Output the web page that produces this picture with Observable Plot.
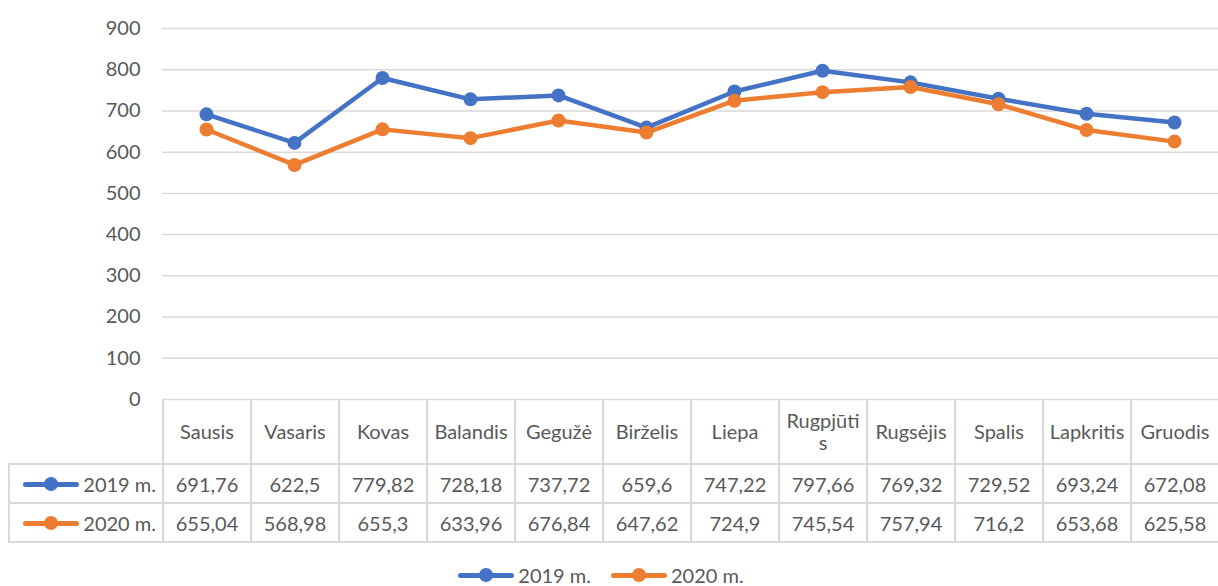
<!DOCTYPE html>
<html>
<head>
<meta charset="utf-8">
<script src="https://cdn.jsdelivr.net/npm/d3@7"></script>
<script src="https://cdn.jsdelivr.net/npm/@observablehq/plot@0.6"></script>
<style>
  html, body { margin: 0; padding: 0; background: #fff; }
  #wrap { position: relative; width: 1218px; height: 586px; font-family: Lato, "Open Sans", sans-serif; color: #595959; overflow: hidden; }
  #chart { position: absolute; left: 0; top: 0; }
  #tbl { position: absolute; left: 8px; top: 399px; border-collapse: collapse; table-layout: fixed; width: 1210px; font-size: 20px; color: #595959; }
  #tbl td { border: 2px solid #d9d9d9; text-align: center; padding: 0 5px; white-space: normal; word-break: break-all; line-height: 22px; }
  #tbl tr.head td { border-top: none; height: 64px; }
  #tbl tr.head td.corner { border-left: none; border-top: none; }
  #tbl tr.row td { height: 37px; }
  #tbl td.key { text-align: right; padding: 0 6px 0 6px; white-space: nowrap; }
  .sw { display: inline-block; position: relative; width: 56px; height: 5px; border-radius: 3px; vertical-align: middle; margin-right: 4px; top: -2px; }
  .sw::after { content: ""; position: absolute; left: 21px; top: -5px; width: 14px; height: 14px; border-radius: 50%; background: inherit; }
  #legend { position: absolute; top: 563px; left: -8px; width: 1218px; text-align: center; font-size: 20px; white-space: nowrap; }
  #legend span.item { display: inline-block; margin: 0 10px; }
</style>
</head>
<body>
<div id="wrap">
  <div id="chart"></div>
  <table id="tbl"></table>
  <div id="legend"></div>
</div>
<script>
const months = ["Sausis","Vasaris","Kovas","Balandis","Gegužė","Birželis","Liepa","Rugpjūtis","Rugsėjis","Spalis","Lapkritis","Gruodis"];
const seriesNames = ["2019 m.", "2020 m."];
const values2019 = [691.76, 622.5, 779.82, 728.18, 737.72, 659.6, 747.22, 797.66, 769.32, 729.52, 693.24, 672.08];
const values2020 = [655.04, 568.98, 655.3, 633.96, 676.84, 647.62, 724.9, 745.54, 757.94, 716.2, 653.68, 625.58];
const yTicks = [0, 100, 200, 300, 400, 500, 600, 700, 800, 900];
const colors = ["#4472C4", "#ED7D31"];

const seriesValues = [values2019, values2020];
const data = seriesNames.map((s, i) => months.map((m, j) => ({series: s, month: m, value: seriesValues[i][j]})));

const marks = [
  Plot.gridY(yTicks, {stroke: "#d9d9d9", strokeOpacity: 1, strokeWidth: 1.5}),
  Plot.axisY(yTicks, {tickSize: 0, tickPadding: 22, fontSize: 20, fill: "#595959", label: null, fontFamily: "Lato"})
];
data.forEach(d => {
  marks.push(Plot.line(d, {x: "month", y: "value", stroke: "series", strokeWidth: 4.5, strokeLinejoin: "round", strokeLinecap: "round"}));
  marks.push(Plot.dot(d, {x: "month", y: "value", fill: "series", r: 7, stroke: "none"}));
});

const chart = Plot.plot({
  width: 1218,
  height: 412,
  marginTop: 28,
  marginBottom: 13,
  marginLeft: 162,
  marginRight: 0,
  x: {type: "point", domain: months, padding: 0.5, axis: null},
  y: {domain: [0, 900], axis: null},
  color: {domain: seriesNames, range: colors},
  style: {fontFamily: "Lato", color: "#595959", overflow: "visible"},
  marks
});
document.getElementById("chart").appendChild(chart);

const fmt = v => String(v).replace(".", ",");
const tbl = d3.select("#tbl");
const cg = tbl.append("colgroup");
cg.append("col").style("width", "154px");
months.forEach(() => cg.append("col").style("width", "88px"));
const head = tbl.append("tr").attr("class", "head");
head.append("td").attr("class", "corner");
months.forEach(m => head.append("td").text(m));
seriesNames.forEach((s, i) => {
  const tr = tbl.append("tr").attr("class", "row");
  const k = tr.append("td").attr("class", "key");
  k.append("span").attr("class", "sw").style("background", colors[i]);
  k.append("span").text(s);
  seriesValues[i].forEach(v => tr.append("td").text(fmt(v)));
});

const lg = d3.select("#legend");
seriesNames.forEach((s, i) => {
  const it = lg.append("span").attr("class", "item");
  it.append("span").attr("class", "sw").style("background", colors[i]);
  it.append("span").text(s);
});
</script>
</body>
</html>
